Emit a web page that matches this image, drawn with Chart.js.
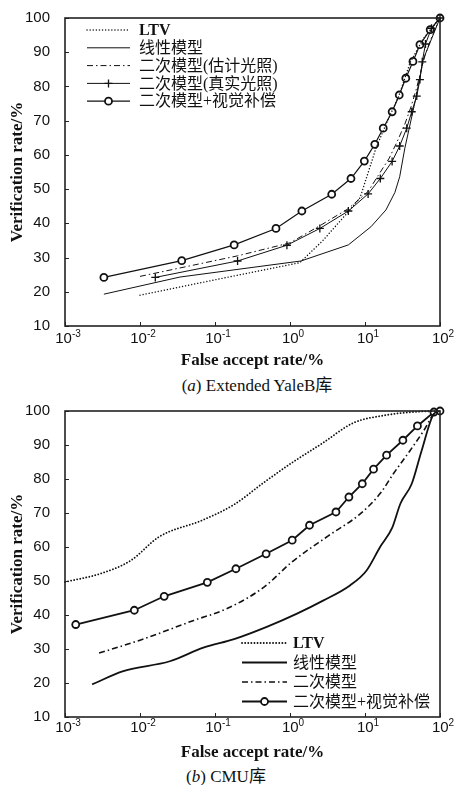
<!DOCTYPE html>
<html>
<head>
<meta charset="utf-8">
<script src="https://cdn.jsdelivr.net/npm/chart.js@4.4.1/dist/chart.umd.min.js"></script>
<style>
  body { margin: 0; width: 456px; height: 785px; background: #fff; position: relative; overflow: hidden; }
  canvas { position: absolute; left: 0; }
  .cap { position: absolute; width: 300px; text-align: center; font: 17px "Liberation Serif", "Noto Sans CJK SC", serif; color: #111; line-height: 18px; }
</style>
</head>
<body>
<canvas id="yale" width="456" height="372" style="top:0"></canvas>
<div class="cap" style="top:377px;left:107px">(<i>a</i>) Extended YaleB库</div>
<canvas id="cmu" width="456" height="372" style="top:393px"></canvas>
<div class="cap" style="top:768px;left:76px">(<i>b</i>) CMU库</div>
<script>
const farTicks = [0.001, 0.01, 0.1, 1, 10, 100]
const farTickBase = '10'
const farTickExponents = ['-3', '-2', '-1', '0', '1', '2']
const rateTicks = [10, 20, 30, 40, 50, 60, 70, 80, 90, 100]

// (a) Extended YaleB
const yaleLabels = ['LTV', '线性模型', '二次模型(估计光照)', '二次模型(真实光照)', '二次模型+视觉补偿']
const yaleLtvFar = [0.01, 0.1, 1.35, 2.75, 6, 8.6, 14, 20, 28, 40, 60, 100]
const yaleLtvRate = [19, 23.5, 28.5, 35, 43.4, 47.5, 62, 70, 77, 87, 94, 100]
const yaleLinFar = [0.0033, 0.034, 1.4, 6, 12, 19, 25, 29, 34, 47, 60, 100]
const yaleLinRate = [19.3, 24.3, 29, 33.7, 39, 43.9, 49, 53.6, 62, 76, 88, 100]
const yaleEstFar = [0.01, 0.2, 1, 2.5, 6, 11, 15, 21, 27, 34, 41, 48, 55, 63, 76, 100]
const yaleEstRate = [24.5, 30.5, 34.3, 39.3, 44.3, 49.3, 54, 59, 64, 69, 74, 79, 84, 89, 94, 100]
const yaleTrueFar = [0.016, 0.2, 0.91, 2.5, 6, 11, 16, 23, 29, 36, 42, 49, 54, 58, 64, 77, 100]
const yaleTrueRate = [24.2, 29, 33.6, 38.5, 43.6, 48.6, 53.1, 58.1, 62.6, 67.8, 72.6, 77.2, 82, 87.2, 92.4, 97, 100]
const yaleVisFar = [0.0033, 0.036, 0.18, 0.65, 1.44, 3.6, 6.5, 9.8, 13.5, 17.5, 23, 28.6, 35, 43.6, 54, 74, 100]
const yaleVisRate = [24.2, 29.1, 33.7, 38.5, 43.6, 48.5, 53.1, 58.2, 63.1, 67.8, 72.6, 77.5, 82.4, 87.3, 92.2, 96.6, 100]

// (b) CMU
const cmuLabels = ['LTV', '线性模型', '二次模型', '二次模型+视觉补偿']
const cmuLtvFar = [0.001, 0.003, 0.0075, 0.018, 0.07, 0.18, 0.45, 1.1, 2.7, 7, 18, 50, 100]
const cmuLtvRate = [49.7, 52.2, 56, 63, 68, 72.5, 79, 85, 90.5, 96.5, 98.7, 99.8, 100]
const cmuLinFar = [0.0023, 0.006, 0.025, 0.07, 0.18, 0.49, 1.24, 2.8, 6.3, 10.5, 15.9, 23, 29.7, 42, 57, 83, 100]
const cmuLinRate = [19.6, 23.5, 26.4, 30.4, 32.9, 36.5, 40.4, 44.3, 48.7, 53.1, 60, 65.6, 72.8, 78.6, 88.4, 99.2, 100]
const cmuQuadFar = [0.00285, 0.01, 0.052, 0.145, 0.45, 1.05, 3.2, 8.7, 15.9, 24, 40, 61, 83, 100]
const cmuQuadRate = [28.8, 32.6, 38.4, 41.9, 48.2, 55.5, 63.2, 69.8, 75.7, 81.6, 88.4, 94.3, 99.2, 100]
const cmuVisFar = [0.00139, 0.0084, 0.021, 0.079, 0.19, 0.48, 1.07, 1.82, 4.1, 6.1, 9.2, 13, 19.4, 32, 50, 83, 100]
const cmuVisRate = [37.2, 41.4, 45.5, 49.6, 53.6, 58, 62, 66.4, 70.3, 74.7, 78.6, 82.9, 87, 91.4, 95.6, 99.7, 100]

const pts = (xs, ys) => xs.map((x, i) => ({ x: x, y: ys[i] }))

const tickFont = '"Liberation Sans", "DejaVu Sans", Arial'

const lineStyles = {
  dotted: { borderDash: [0.1, 3], borderCapStyle: 'round', pointRadius: 0 },
  solid: { borderDash: [], pointRadius: 0 },
  dashdot: { borderDash: [6, 3, 1.5, 3], pointRadius: 0 },
  cross: { borderDash: [], pointStyle: 'cross', pointRadius: 4, pointBorderWidth: 1.3 },
  circle: { borderDash: [], pointStyle: 'circle', pointRadius: 3.5, pointBackgroundColor: '#fff', pointBorderWidth: 1.8 },
}

const makeSet = (label, data, style, width, smooth) => Object.assign({
  label: label,
  data: data,
  borderColor: '#111',
  pointBorderColor: '#111',
  borderWidth: width,
  tension: 0,
  cubicInterpolationMode: smooth ? 'monotone' : 'default',
  clip: false,
}, lineStyles[style])

// legend drawn inside the plot box
const insideLegend = {
  id: 'insideLegend',
  afterDatasetsDraw(chart, args, opts) {
    const ctx = chart.ctx
    const a = chart.chartArea
    ctx.save()
    chart.data.datasets.forEach((ds, i) => {
      const y = a.top + opts.top + i * opts.row
      const x1 = a.left + opts.x1
      const x2 = a.left + opts.x2
      ctx.strokeStyle = '#111'
      ctx.lineWidth = ds.borderWidth
      ctx.lineCap = ds.borderCapStyle || 'butt'
      ctx.setLineDash(ds.borderDash)
      ctx.beginPath()
      ctx.moveTo(x1, y)
      ctx.lineTo(x2, y)
      ctx.stroke()
      ctx.setLineDash([])
      if (ds.pointRadius > 0) {
        ctx.lineWidth = ds.pointBorderWidth
        const mx = (x1 + x2) / 2
        const r = ds.pointRadius
        ctx.beginPath()
        if (ds.pointStyle === 'circle') {
          ctx.fillStyle = '#fff'
          ctx.arc(mx, y, r, 0, Math.PI * 2)
          ctx.fill()
        } else {
          ctx.moveTo(mx, y - r)
          ctx.lineTo(mx, y + r)
          ctx.moveTo(mx - r, y)
          ctx.lineTo(mx + r, y)
        }
        ctx.stroke()
      }
      ctx.fillStyle = '#111'
      ctx.textBaseline = 'middle'
      const bold = /^[A-Z]+$/.test(ds.label) ? 'bold ' : ''
      ctx.font = bold + '16px "Liberation Serif", "Noto Sans CJK SC", serif'
      ctx.fillText(ds.label, a.left + opts.textX, y + 1)
    })
    ctx.restore()
  }
}

// box round the plot, short inward ticks, 10^n labels with a raised exponent
const frameTicks = {
  id: 'frameTicks',
  afterDraw(chart, args, opts) {
    const { ctx, chartArea: a, scales } = chart
    ctx.save()
    ctx.strokeStyle = '#222'
    ctx.lineWidth = 1
    ctx.beginPath()
    scales.x.ticks.forEach(t => {
      const px = Math.round(scales.x.getPixelForValue(t.value)) + 0.5
      ctx.moveTo(px, a.bottom)
      ctx.lineTo(px, a.bottom - 4)
    })
    scales.y.ticks.forEach(t => {
      const py = Math.round(scales.y.getPixelForValue(t.value)) + 0.5
      ctx.moveTo(a.left, py)
      ctx.lineTo(a.left + 4, py)
    })
    ctx.stroke()
    ctx.lineWidth = 1.6
    ctx.strokeRect(a.left, a.top, a.right - a.left, a.bottom - a.top)

    ctx.fillStyle = '#111'
    ctx.textBaseline = 'middle'
    ctx.textAlign = 'left'
    farTicks.forEach((v, i) => {
      const px = scales.x.getPixelForValue(v)
      ctx.font = '15px ' + tickFont
      const wBase = ctx.measureText(farTickBase).width
      ctx.font = '10px ' + tickFont
      const wExp = ctx.measureText(farTickExponents[i]).width
      const x0 = px - (wBase + wExp) / 2 + 3
      const y = a.bottom + opts.labelOffset
      ctx.font = '15px ' + tickFont
      ctx.fillText(farTickBase, x0, y)
      ctx.font = '10px ' + tickFont
      ctx.fillText(farTickExponents[i], x0 + wBase, y - 5)
    })
    ctx.restore()
  }
}

const makeChart = (id, datasets, legendOpts, xAxisHeight, xTitlePad, labelOffset) => new Chart(
  document.getElementById(id),
  {
    type: 'line',
    data: { datasets: datasets },
    options: {
      responsive: false,
      animation: false,
      layout: { padding: { top: 18, right: 16, left: 0, bottom: 0 } },
      plugins: {
        legend: { display: false },
        tooltip: { enabled: false },
        insideLegend: legendOpts,
        frameTicks: { labelOffset: labelOffset },
      },
      scales: {
        x: {
          type: 'logarithmic',
          min: 0.001,
          max: 100,
          afterBuildTicks: s => { s.ticks = farTicks.map(v => ({ value: v })) },
          afterFit: s => { s.height = xAxisHeight },
          grid: { display: false },
          border: { display: false },
          ticks: { display: false },
          title: {
            display: true,
            text: 'False accept rate/%',
            color: '#111',
            padding: { top: 0, bottom: xTitlePad },
            font: { family: '"Liberation Serif", serif', size: 17, weight: 'bold' },
          },
        },
        y: {
          min: 10,
          max: 100,
          afterBuildTicks: s => { s.ticks = rateTicks.map(v => ({ value: v })) },
          afterFit: s => { s.width = 65 },
          grid: { display: false },
          border: { display: false },
          ticks: {
            padding: 7,
            color: '#111',
            font: { family: tickFont, size: 15 },
          },
          title: {
            display: true,
            text: 'Verification rate/%',
            color: '#111',
            padding: { top: 7, bottom: 0 },
            font: { family: '"Liberation Serif", serif', size: 17, weight: 'bold' },
          },
        },
      },
    },
    plugins: [insideLegend, frameTicks],
  }
)

makeChart('yale', [
  makeSet(yaleLabels[0], pts(yaleLtvFar, yaleLtvRate), 'dotted', 1.4, false),
  makeSet(yaleLabels[1], pts(yaleLinFar, yaleLinRate), 'solid', 1, false),
  makeSet(yaleLabels[2], pts(yaleEstFar, yaleEstRate), 'dashdot', 1, false),
  makeSet(yaleLabels[3], pts(yaleTrueFar, yaleTrueRate), 'cross', 1, false),
  makeSet(yaleLabels[4], pts(yaleVisFar, yaleVisRate), 'circle', 1.2, false),
], { top: 12, row: 17.8, x1: 22, x2: 65, textX: 74 }, 46, 1, 13)

makeChart('cmu', [
  makeSet(cmuLabels[0], pts(cmuLtvFar, cmuLtvRate), 'dotted', 1.8, true),
  makeSet(cmuLabels[1], pts(cmuLinFar, cmuLinRate), 'solid', 1.8, true),
  makeSet(cmuLabels[2], pts(cmuQuadFar, cmuQuadRate), 'dashdot', 1.6, true),
  makeSet(cmuLabels[3], pts(cmuVisFar, cmuVisRate), 'circle', 1.8, false),
], { top: 232, row: 19.5, x1: 177, x2: 222, textX: 228 }, 48, 2, 11)
</script>
</body>
</html>
